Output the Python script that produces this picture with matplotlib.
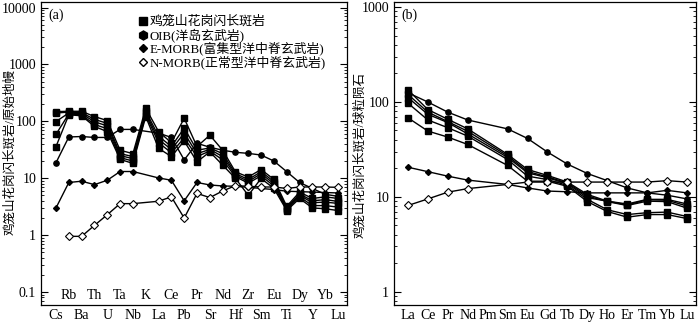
import numpy as np
import matplotlib
matplotlib.use('Agg')
from matplotlib import pyplot as plt
from matplotlib import ticker

plt.rcParams['font.family'] = ['Liberation Serif', 'Noto Sans CJK SC']

nan = np.nan

# primitive mantle normalised spider diagram (a)
spider_elements = ['Cs', 'Rb', 'Ba', 'Th', 'U', 'Ta', 'Nb', 'K', 'La', 'Ce', 'Pb', 'Pr',
                   'Sr', 'Nd', 'Hf', 'Zr', 'Sm', 'Eu', 'Ti', 'Dy', 'Y', 'Yb', 'Lu']
samples_pm = [
  [148, 150, 150, 121, 103, 31, 27, 170, 66, 42, 113, 36, 57, 31, 12.9, 10.5, 14.2, 9.5, 3.2, 5.7, 4.4, 4.7, 4.4],
  [140, 145, 142, 108, 92, 27, 24, 150, 55, 36, 76, 31, 34, 27, 12, 9.5, 13, 8.7, 3.0, 5.3, 4.0, 4.2, 3.9],
  [99, 140, 136, 98, 83, 25, 22, 140, 48, 32, 62, 27, 32, 24, 11.3, 8.8, 12, 8.0, 2.9, 5.0, 3.7, 3.8, 3.6],
  [59, 135, 130, 88, 74, 23, 20, 130, 42, 28, 51, 24, 30, 21, 10.6, 8.2, 11, 7.3, 2.8, 4.7, 3.3, 3.3, 3.1],
  [36, 130, 125, 81, 66, 21.4, 18.2, 121, 33.5, 24, 45, 19.4, 29, 17, 9.9, 5.0, 9.9, 6.6, 2.7, 4.4, 3.0, 2.9, 2.7],
]
oib_pm = [18.7, 53, 54, 52, 52, 72, 72, nan, 62, 52, 21, 41, 35, 31, 28.5, 27.3, 25.5, 20, 13, 8.4, 6.6, 5.2, 4.8]
emorb_pm = [3.0, 8.4, 8.85, 7.7, 9.2, 13.1, 13.1, nan, 10.1, 9.2, 4.0, 8.4, 7.6, 7.3, 7.2, 6.9, 6.6, 6.3, 5.9, 5.8, 5.7, 5.6, 5.5]
nmorb_pm = [nan, 0.95, 0.95, 1.48, 2.28, 3.57, 3.57, nan, 3.93, 4.7, 1.99, 5.4, 4.56, 5.96, 7.4, 7.2, 7.0, 7.0, 6.6, 7.0, 7.0, 7.0, 6.9]

# chondrite normalised REE (b)
ree_elements = ['La', 'Ce', 'Pr', 'Nd', 'Pm', 'Sm', 'Eu', 'Gd', 'Tb', 'Dy', 'Ho', 'Er', 'Tm', 'Yb', 'Lu']
samples_ree = [
  [134, 83, 65.6, 52, nan, 28, 19.4, 16.8, 14.3, 10.6, 9.0, 8.4, 9.4, 9.4, 8.4],
  [120, 78, 62, 49, nan, 27, 18.5, 16.2, 14.0, 10.2, 8.9, 8.1, 9.0, 8.9, 7.6],
  [111, 74, 60.6, 46, nan, 26, 17.9, 15.9, 13.7, 9.8, 9.0, 8.2, 9.3, 9.2, 8.0],
  [97, 64.5, 53.5, 43.6, nan, 24.7, 16.5, 15.2, 13.2, 9.4, 7.3, 6.5, 6.8, 6.9, 6.2],
  [68, 49.3, 42.6, 35.6, nan, 21.4, 14.6, 14.6, 12.9, 8.9, 7.0, 6.1, 6.5, 6.5, 5.9],
]
oib_ree = [125, 99.7, 78, 64.5, nan, 52, 41.2, 29.6, 22.1, 17.6, 14.8, 12.4, 11.0, 10.4, 9.5]
emorb_ree = [20.5, 18.4, 16.5, 15.0, nan, 13.5, 12.4, 11.5, 11.3, 11.0, 11.0, 11.0, 11.0, 11.7, 11.0]
nmorb_ree = [8.1, 9.5, 11.2, 12.2, nan, 13.5, 14.3, 14.3, 14.3, 14.3, 14.3, 14.3, 14.3, 14.8, 14.3]

legend_labels = ['鸡笼山花岗闪长斑岩', 'OIB(洋岛玄武岩)', 'E-MORB(富集型洋中脊玄武岩)', 'N-MORB(正常型洋中脊玄武岩)']

styles = {
  'sample': dict(marker='s', ms=4.5, mfc='k', mec='k'),
  'oib': dict(marker='o', ms=3.8, mfc='k', mec='k'),
  'emorb': dict(marker='D', ms=3.0, mfc='k', mec='k'),
  'nmorb': dict(marker='D', ms=3.6, mfc='white', mec='k', mew=0.8),
}
legend_markers = [
  dict(marker='s', ms=5.5, mfc='k', mec='k'),
  dict(marker='h', ms=6.5, mfc='k', mec='k'),
  dict(marker='D', ms=4.5, mfc='k', mec='k'),
  dict(marker='D', ms=4.5, mfc='white', mec='k', mew=1.0),
]

def draw(ax, vals, kind):
  v = np.array(vals, dtype=float)
  x = np.arange(len(v))
  m = np.isfinite(v)
  ax.plot(x[m], v[m], color='k', lw=1.0, **styles[kind])

def setup_log_axis(ax, lo, hi, majors, labels):
  ax.set_yscale('log')
  ax.set_ylim(lo, hi)
  ax.yaxis.set_major_locator(ticker.FixedLocator(majors))
  ax.yaxis.set_major_formatter(ticker.FixedFormatter(labels))
  ax.yaxis.set_minor_locator(ticker.LogLocator(base=10, subs=np.arange(2, 10)))
  ax.yaxis.set_minor_formatter(ticker.NullFormatter())
  ax.tick_params(axis='y', which='both', direction='in', left=True, right=True, labelsize=10)
  ax.tick_params(axis='y', which='major', length=5, width=0.8)
  ax.tick_params(axis='y', which='minor', length=2.5, width=0.6)
  for s in ax.spines.values():
    s.set_linewidth(0.9)

fig = plt.figure(figsize=(7, 3.22), dpi=100)
ax1 = fig.add_axes([41/700, 17/322, 306/700, 303/322])
ax2 = fig.add_axes([394/700, 17/322, 302/700, 303/322])

# panel (a)
for s in samples_pm:
  draw(ax1, s, 'sample')
draw(ax1, oib_pm, 'oib')
draw(ax1, emorb_pm, 'emorb')
draw(ax1, nmorb_pm, 'nmorb')
setup_log_axis(ax1, 0.059, 12500, [0.1, 1, 10, 100, 1000, 10000],
               ['0.1', '1', '10', '100', '1000', '10000'])
ax1.set_xlim(-1.17, 22.7)
xs = np.arange(len(spider_elements))
ax1.set_xticks(xs[::2])
ax1.set_xticklabels(spider_elements[::2])
ax1.tick_params(axis='x', length=0, pad=3, labelsize=10)
for i in xs[1::2]:
  ax1.text(i, 0.03, spider_elements[i], transform=ax1.get_xaxis_transform(),
           ha='center', va='center', fontsize=10)
ax1.text(0.025, 0.955, '(a)', transform=ax1.transAxes, fontsize=10, va='center')

# legend drawn by hand so the rows sit as tight as in the original
leg_rows = [21.5, 35, 48.5, 62]
for row, lab, mk in zip(leg_rows, legend_labels, legend_markers):
  yy = (305 - row) / 303
  ax1.plot([0.333], [yy], transform=ax1.transAxes, ls='none', color='k', clip_on=False, **mk)
  ax1.text(0.356, yy, lab, transform=ax1.transAxes, fontsize=9.3, va='center', ha='left')

fig.text(10/700, 1 - 152/322, '鸡笼山花岗闪长斑岩/原始地幔', rotation=90,
         ha='center', va='center', fontsize=9)

# panel (b)
for s in samples_ree:
  draw(ax2, s, 'sample')
draw(ax2, oib_ree, 'oib')
draw(ax2, emorb_ree, 'emorb')
draw(ax2, nmorb_ree, 'nmorb')
setup_log_axis(ax2, 0.724, 1130, [1, 10, 100, 1000], ['1', '10', '100', '1000'])
ax2.set_xlim(-0.70, 14.45)
ax2.set_xticks(np.arange(len(ree_elements)))
ax2.set_xticklabels(ree_elements)
ax2.tick_params(axis='x', length=0, pad=3, labelsize=10)
ax2.text(0.025, 0.955, '(b)', transform=ax2.transAxes, fontsize=10, va='center')
fig.text(360/700, 1 - 155/322, '鸡笼山花岗闪长斑岩/球粒陨石', rotation=90,
         ha='center', va='center', fontsize=9)

fig.savefig('out.png', dpi=100)
